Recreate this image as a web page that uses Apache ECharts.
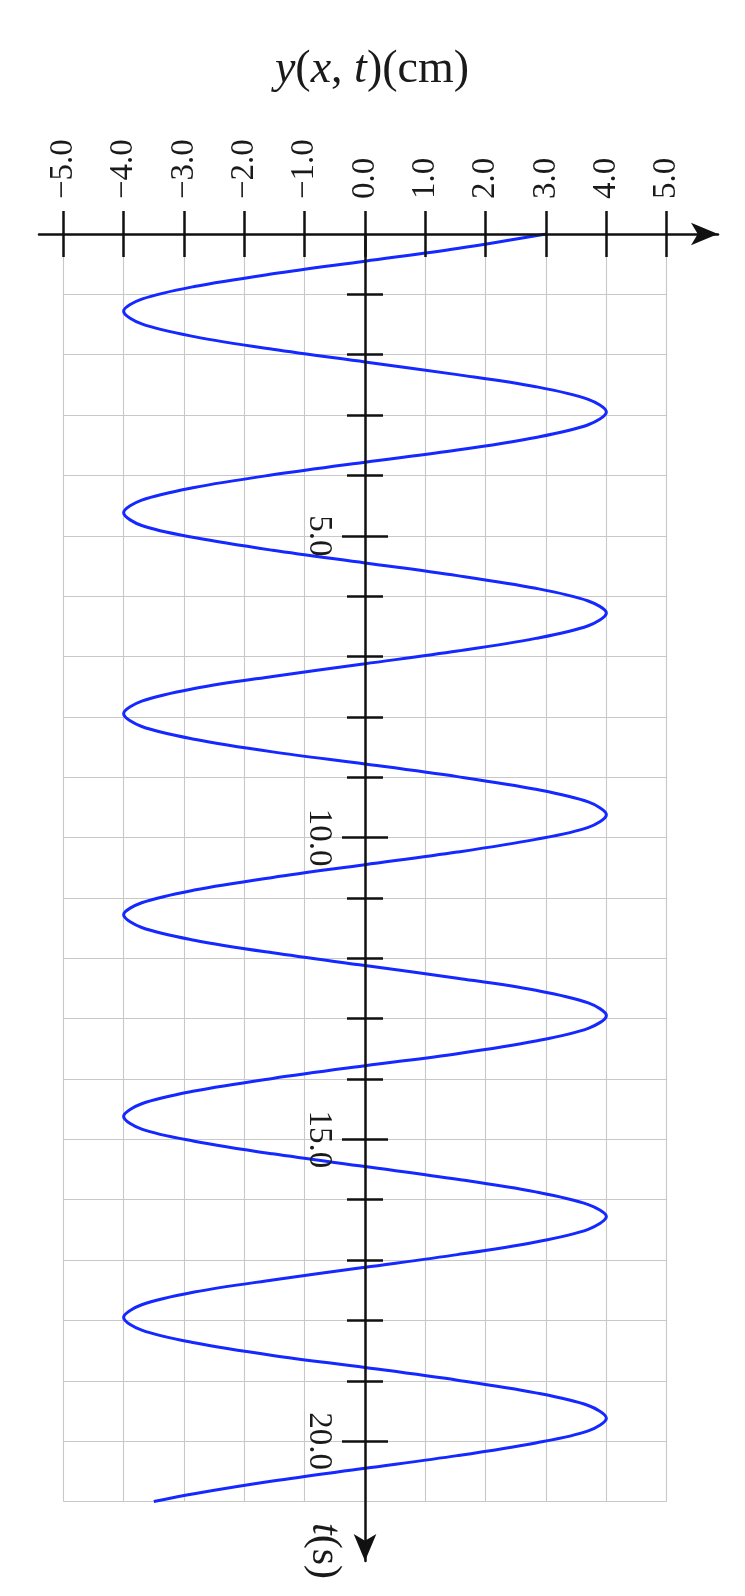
<!DOCTYPE html>
<html>
<head>
<meta charset="utf-8">
<script src="https://cdn.jsdelivr.net/npm/echarts@6/dist/echarts.min.js"></script>
<style>
html,body{margin:0;padding:0;background:#fff;}
#chart{width:745px;height:1596px;}
</style>
</head>
<body>
<div id="chart"></div>
<script>
// ---- data ----
const xTicks = [-5, -4, -3, -2, -1, 0, 1, 2, 3, 4, 5];
const tMinorTicks = [1, 2, 3, 4, 6, 7, 8, 9, 11, 12, 13, 14, 16, 17, 18, 19];
const tMajorTicks = [5, 10, 15, 20];
const tValues = [0, 0.24,
  0.45, 0.66, 0.87, 1.08, 1.28, 1.49, 1.70, 1.91, 2.12, 2.33, 2.53, 2.74, 2.95, 3.16, 3.37, 3.58,
  3.78, 3.99, 4.20, 4.41, 4.62, 4.83, 5.03, 5.24, 5.45, 5.66, 5.87, 6.08, 6.28, 6.49, 6.70, 6.91,
  7.12, 7.33, 7.53, 7.74, 7.95, 8.16, 8.37, 8.58, 8.78, 8.99, 9.20, 9.41, 9.62, 9.83, 10.03, 10.24,
  10.45, 10.66, 10.87, 11.08, 11.28, 11.49, 11.70, 11.91, 12.12, 12.33, 12.53, 12.74, 12.95, 13.16, 13.37, 13.58,
  13.78, 13.99, 14.20, 14.41, 14.62, 14.83, 15.03, 15.24, 15.45, 15.66, 15.87, 16.08, 16.28, 16.49, 16.70, 16.91,
  17.12, 17.33, 17.53, 17.74, 17.95, 18.16, 18.37, 18.58, 18.78, 18.99, 19.20, 19.41, 19.62, 19.83, 20.03, 20.24,
  20.45, 20.66, 20.87, 21.0];
const yValues = [3.0, 1.53,
  0, -1.53, -2.83, -3.70, -4, -3.70, -2.83, -1.53, 0, 1.53, 2.83, 3.70, 4, 3.70, 2.83, 1.53,
  0, -1.53, -2.83, -3.70, -4, -3.70, -2.83, -1.53, 0, 1.53, 2.83, 3.70, 4, 3.70, 2.83, 1.53,
  0, -1.53, -2.83, -3.70, -4, -3.70, -2.83, -1.53, 0, 1.53, 2.83, 3.70, 4, 3.70, 2.83, 1.53,
  0, -1.53, -2.83, -3.70, -4, -3.70, -2.83, -1.53, 0, 1.53, 2.83, 3.70, 4, 3.70, 2.83, 1.53,
  0, -1.53, -2.83, -3.70, -4, -3.70, -2.83, -1.53, 0, 1.53, 2.83, 3.70, 4, 3.70, 2.83, 1.53,
  0, -1.53, -2.83, -3.70, -4, -3.70, -2.83, -1.53, 0, 1.53, 2.83, 3.70, 4, 3.70, 2.83, 1.53,
  0, -1.53, -2.83, -3.5];
const titleText = '{i|y}{n|(}{i|x}{n|, }{i|t}{n|)(cm)}';
const tAxisName = '{i|t}{n|(s)}';

// ---- styles ----
const FONT = "'Liberation Serif', 'DejaVu Serif', serif";
const BLACK = '#111';
const GRIDC = '#c8c8c8';
const fmtNum = v => (v < 0 ? '\u2212' : '') + Math.abs(v).toFixed(1);
const richFor = size => ({
  i: { fontFamily: FONT, fontStyle: 'italic', fontWeight: 'normal', fontSize: size, color: '#1a1a1a' },
  n: { fontFamily: FONT, fontWeight: 'normal', fontSize: size, color: '#1a1a1a' }
});

const X_MIN = -5, X_MAX = 5, T_MIN = 0, T_MAX = 21;
const GRID_LEFT = 63.3, GRID_RIGHT = 78.3;
// pixel x of the t axis (value 0 on the horizontal scale)
const ZERO_PX = GRID_LEFT + (0 - X_MIN) / (X_MAX - X_MIN) * (745 - GRID_LEFT - GRID_RIGHT);

function hidden() {
  return { axisLine: { show: false }, axisTick: { show: false }, axisLabel: { show: false }, splitLine: { show: false } };
}

function xTickAxis(inside, withLabels) {
  return Object.assign(hidden(), {
    type: 'value', gridIndex: 0, min: X_MIN, max: X_MAX, interval: 1, position: 'top', z: 5,
    axisLine: { show: false, onZero: false },
    axisTick: { show: true, inside: inside, length: 23, customValues: xTicks,
      lineStyle: { color: BLACK, width: 2.5 } },
    axisLabel: withLabels ? { show: true, customValues: xTicks, rotate: -90, margin: 35,
      fontFamily: FONT, fontSize: 33, color: '#1a1a1a', formatter: fmtNum } : { show: false }
  });
}

function tTickAxis(inside, values, len, withLabels) {
  return Object.assign(hidden(), {
    type: 'value', gridIndex: 0, min: T_MIN, max: T_MAX, interval: 1, inverse: true, position: 'left', z: 5,
    offset: -(ZERO_PX - GRID_LEFT),
    axisLine: { show: false, onZero: false },
    axisTick: { show: true, inside: inside, length: len, customValues: values,
      lineStyle: { color: BLACK, width: 2.5 } },
    axisLabel: withLabels ? { show: true, customValues: values, rotate: -90, margin: 30,
      fontFamily: FONT, fontSize: 33, color: '#1a1a1a', formatter: fmtNum } : { show: false }
  });
}

const option = {
  animation: false,
  backgroundColor: '#fff',
  title: {
    text: titleText, left: 367, top: 42, textAlign: 'center',
    textStyle: { fontFamily: FONT, fontWeight: 'normal', fontSize: 46, color: '#1a1a1a', rich: richFor(46) }
  },
  grid: [
    { left: GRID_LEFT, right: GRID_RIGHT, top: 234, bottom: 94.5, outerBoundsMode: 'none', containLabel: false },
    { left: 39, right: 27, top: 234, bottom: 35, outerBoundsMode: 'none', containLabel: false }
  ],
  xAxis: [
    Object.assign(hidden(), {
      type: 'value', gridIndex: 0, min: X_MIN, max: X_MAX, interval: 1, position: 'top', z: 0,
      axisLine: { show: false, onZero: false },
      splitLine: { show: true, lineStyle: { color: GRIDC, width: 1.1 } }
    }),
    xTickAxis(true, true),
    xTickAxis(false, false),
    Object.assign(hidden(), {
      type: 'value', gridIndex: 1, min: -5.403, max: 5.85, position: 'top', z: 6,
      axisLine: { show: true, onZero: false, symbol: ['none', 'arrow'], symbolSize: [17, 27],
        lineStyle: { color: BLACK, width: 2.5 } }
    })
  ],
  yAxis: [
    Object.assign(hidden(), {
      type: 'value', gridIndex: 0, min: T_MIN, max: T_MAX, interval: 1, inverse: true, z: 0,
      axisLine: { show: false, onZero: false },
      splitLine: { show: true, lineStyle: { color: GRIDC, width: 1.1 } }
    }),
    tTickAxis(true, tMinorTicks, 18, false),
    tTickAxis(false, tMinorTicks, 18, false),
    tTickAxis(true, tMajorTicks, 23, true),
    tTickAxis(false, tMajorTicks, 23, false),
    Object.assign(hidden(), {
      type: 'value', gridIndex: 1, min: 0, max: 21.985, inverse: true, position: 'left', z: 6,
      axisLine: { show: true, onZero: true, onZeroAxisIndex: 3, symbol: ['arrow', 'none'], symbolSize: [17, 27],
        lineStyle: { color: BLACK, width: 2.5 } },
      name: tAxisName, nameLocation: 'end', nameRotate: -90, nameGap: -10, nameMoveOverlap: false,
      nameTextStyle: { fontFamily: FONT, fontSize: 42, color: '#1a1a1a', align: 'center',
        verticalAlign: 'top', padding: [20, 0, 0, 0], rich: richFor(42) }
    })
  ],
  series: [{
    type: 'line', xAxisIndex: 0, yAxisIndex: 0,
    data: tValues.map((t, i) => [yValues[i], t]),
    smooth: 0.33, showSymbol: false, symbol: 'none',
    lineStyle: { color: '#1428ff', width: 3 }, z: 2
  }]
};

const chart = echarts.init(document.getElementById('chart'), null, { renderer: 'canvas' });
chart.setOption(option);
</script>
</body>
</html>
